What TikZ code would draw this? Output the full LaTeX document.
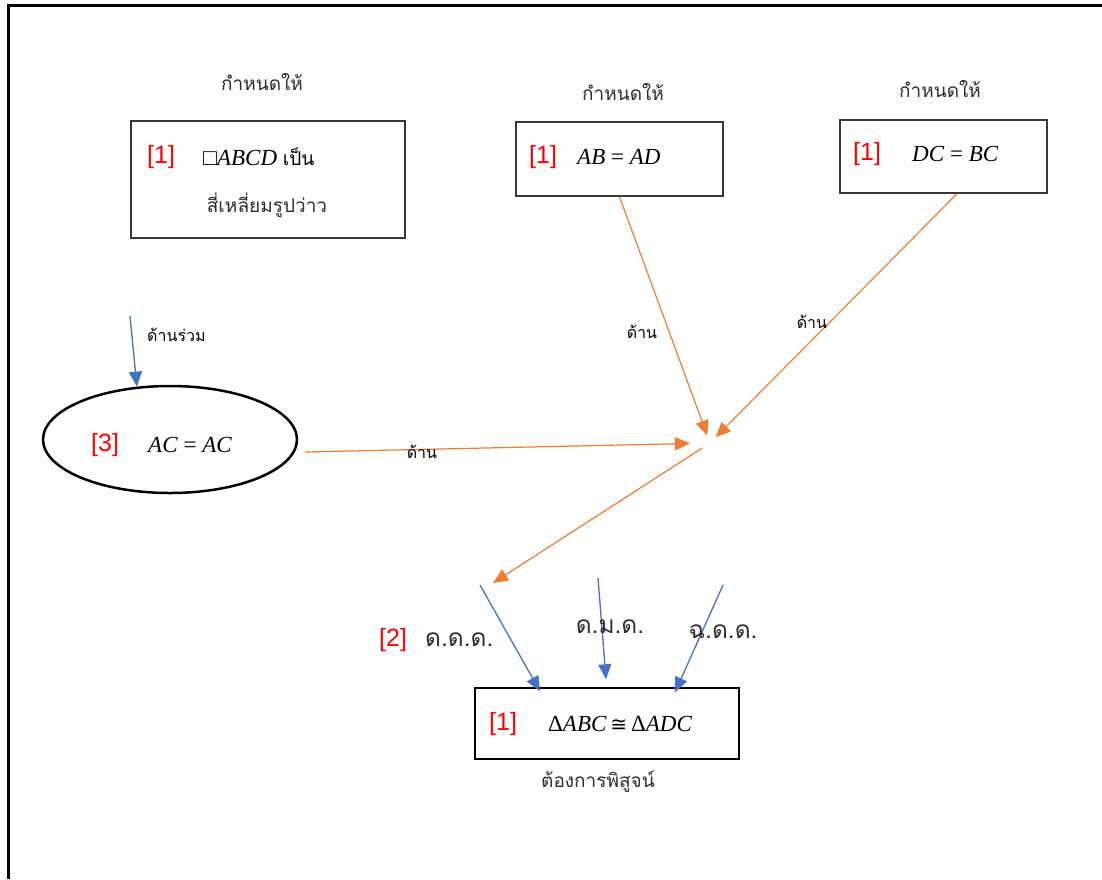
\documentclass[tikz,border=0pt]{standalone}
\usepackage{fontspec}
\usetikzlibrary{arrows.meta,shapes.geometric}
\setmainfont{Liberation Serif}
\newfontfamily\thaifont[Script=Thai]{Loma}
\newfontfamily\numfont{Liberation Sans}
\newfontfamily\relfont{DejaVu Sans}

\definecolor{arroworange}{RGB}{237,125,49}
\definecolor{arrowblue}{RGB}{68,114,196}
\definecolor{boxgray}{RGB}{55,55,55}
\definecolor{textgray}{RGB}{45,45,45}

\newcommand{\tag}[1]{{\numfont\fontsize{25}{28}\selectfont\color{red}[#1]}}
\newcommand{\thai}[1]{{\thaifont\fontsize{19}{22}\selectfont #1}}

\tikzset{
   given/.style={draw=boxgray,line width=1.5pt,rectangle,inner sep=0pt},
   word/.style={text=textgray,font=\thaifont\fontsize{19}{22}\selectfont,inner sep=0pt},
   sideword/.style={text=black,font=\thaifont\fontsize{16}{19}\selectfont,inner sep=0pt},
   eq/.style={font=\fontsize{23}{26}\selectfont,inner sep=0pt,anchor=west},
   rule/.style={text=textgray,font=\thaifont\fontsize{24.5}{28}\selectfont,inner sep=0pt},
   side/.style={draw=arroworange,line width=1.2pt,-{Triangle[length=15pt,width=13pt]}},
   link/.style={draw=arrowblue,line width=1.3pt,-{Triangle[length=15pt,width=13pt]}}
}

\begin{document}
\begin{tikzpicture}[x=1pt,y=-1pt]
   \useasboundingbox (0,0) rectangle (1102,879);
   \draw[line width=3pt] (8,879) -- (8,5) -- (1102,5);

   % three given facts
   \node[word] (head1) at (262,82) {กำหนดให้};
   \node[given,minimum width=274pt,minimum height=117pt] (kite) at (268,179.5) {};
   \node[eq] (kitetag) at (147,157) {\tag{1}};
   \node[eq] (kiteeq) at (203,157) {□\textit{ABCD} \thai{เป็น}};
   \node[word] (kiteword) at (267,205) {สี่เหลี่ยมรูปว่าว};

   \node[word] (head2) at (623,92) {กำหนดให้};
   \node[given,minimum width=207pt,minimum height=74pt] (abad) at (619.5,159) {};
   \node[eq] (abadtag) at (529,157) {\tag{1}};
   \node[eq] (abadeq) at (577,157) {\textit{AB} = \textit{AD}};

   \node[word] (head3) at (940,89) {กำหนดให้};
   \node[given,minimum width=207pt,minimum height=73pt] (dcbc) at (943.5,156.5) {};
   \node[eq] (dcbctag) at (853,154) {\tag{1}};
   \node[eq] (dcbceq) at (912,154) {\textit{DC} = \textit{BC}};

   % common side
   \node[draw=black,line width=2.5pt,ellipse,minimum width=254pt,minimum height=107pt,inner sep=0pt] (acac) at (170,439.5) {};
   \node[eq] (acactag) at (91,445) {\tag{3}};
   \node[eq] (acaceq) at (148,445) {\textit{AC} = \textit{AC}};
   \coordinate (common) at (130,316);
   \draw[link] (common) -- (acac.122);
   \node[sideword,anchor=west] (commonword) at (147,335) {ด้านร่วม};

   % sides meet here
   \coordinate (meet) at (710,443);
   \draw[side,shorten >=8pt] (abad.south) -- (meet);
   \draw[side,shorten >=8pt] ([xshift=13.5pt]dcbc.south) -- (meet);
   \draw[side,shorten >=20pt] ([xshift=7pt,yshift=-12.5pt]acac.east) -- (meet);
   \node[sideword] (sideb) at (642,332) {ด้าน};
   \node[sideword] (sidec) at (812,322) {ด้าน};
   \node[sideword] (sidea) at (422,452) {ด้าน};
   \coordinate (gather) at (493,583);
   \draw[side,shorten <=9pt] (meet) -- (gather);

   % to be proved
   \node[given,draw=black,minimum width=264pt,minimum height=71pt] (proof) at (607,723.5) {};
   \node[eq] (prooftag) at (489,724) {\tag{1}};
   \node[eq] (proofeq) at (548,724) {Δ\textit{ABC}\,{\relfont\fontsize{20}{24}\selectfont ≅}\,Δ\textit{ADC}};
   \node[word] (proofword) at (598,782) {ต้องการพิสูจน์};

   \coordinate (sss) at (480,585);
   \coordinate (sas) at (598,578);
   \coordinate (rhs) at (723,585);
   \draw[link] (sss) -- ([xshift=-67pt,yshift=-4pt]proof.north);
   \draw[link] (sas) -- ([xshift=-1pt,yshift=8pt]proof.north);
   \draw[link] (rhs) -- ([xshift=68pt,yshift=-5pt]proof.north);
   \node[eq] (ssstag) at (379,640) {\tag{2}};
   \node[rule,anchor=west] (sssword) at (425,640) {ด.ด.ด.};
   \node[rule] (sasword) at (610,627) {ด.ม.ด.};
   \node[rule] (rhsword) at (723,632) {ฉ.ด.ด.};
\end{tikzpicture}
\end{document}
